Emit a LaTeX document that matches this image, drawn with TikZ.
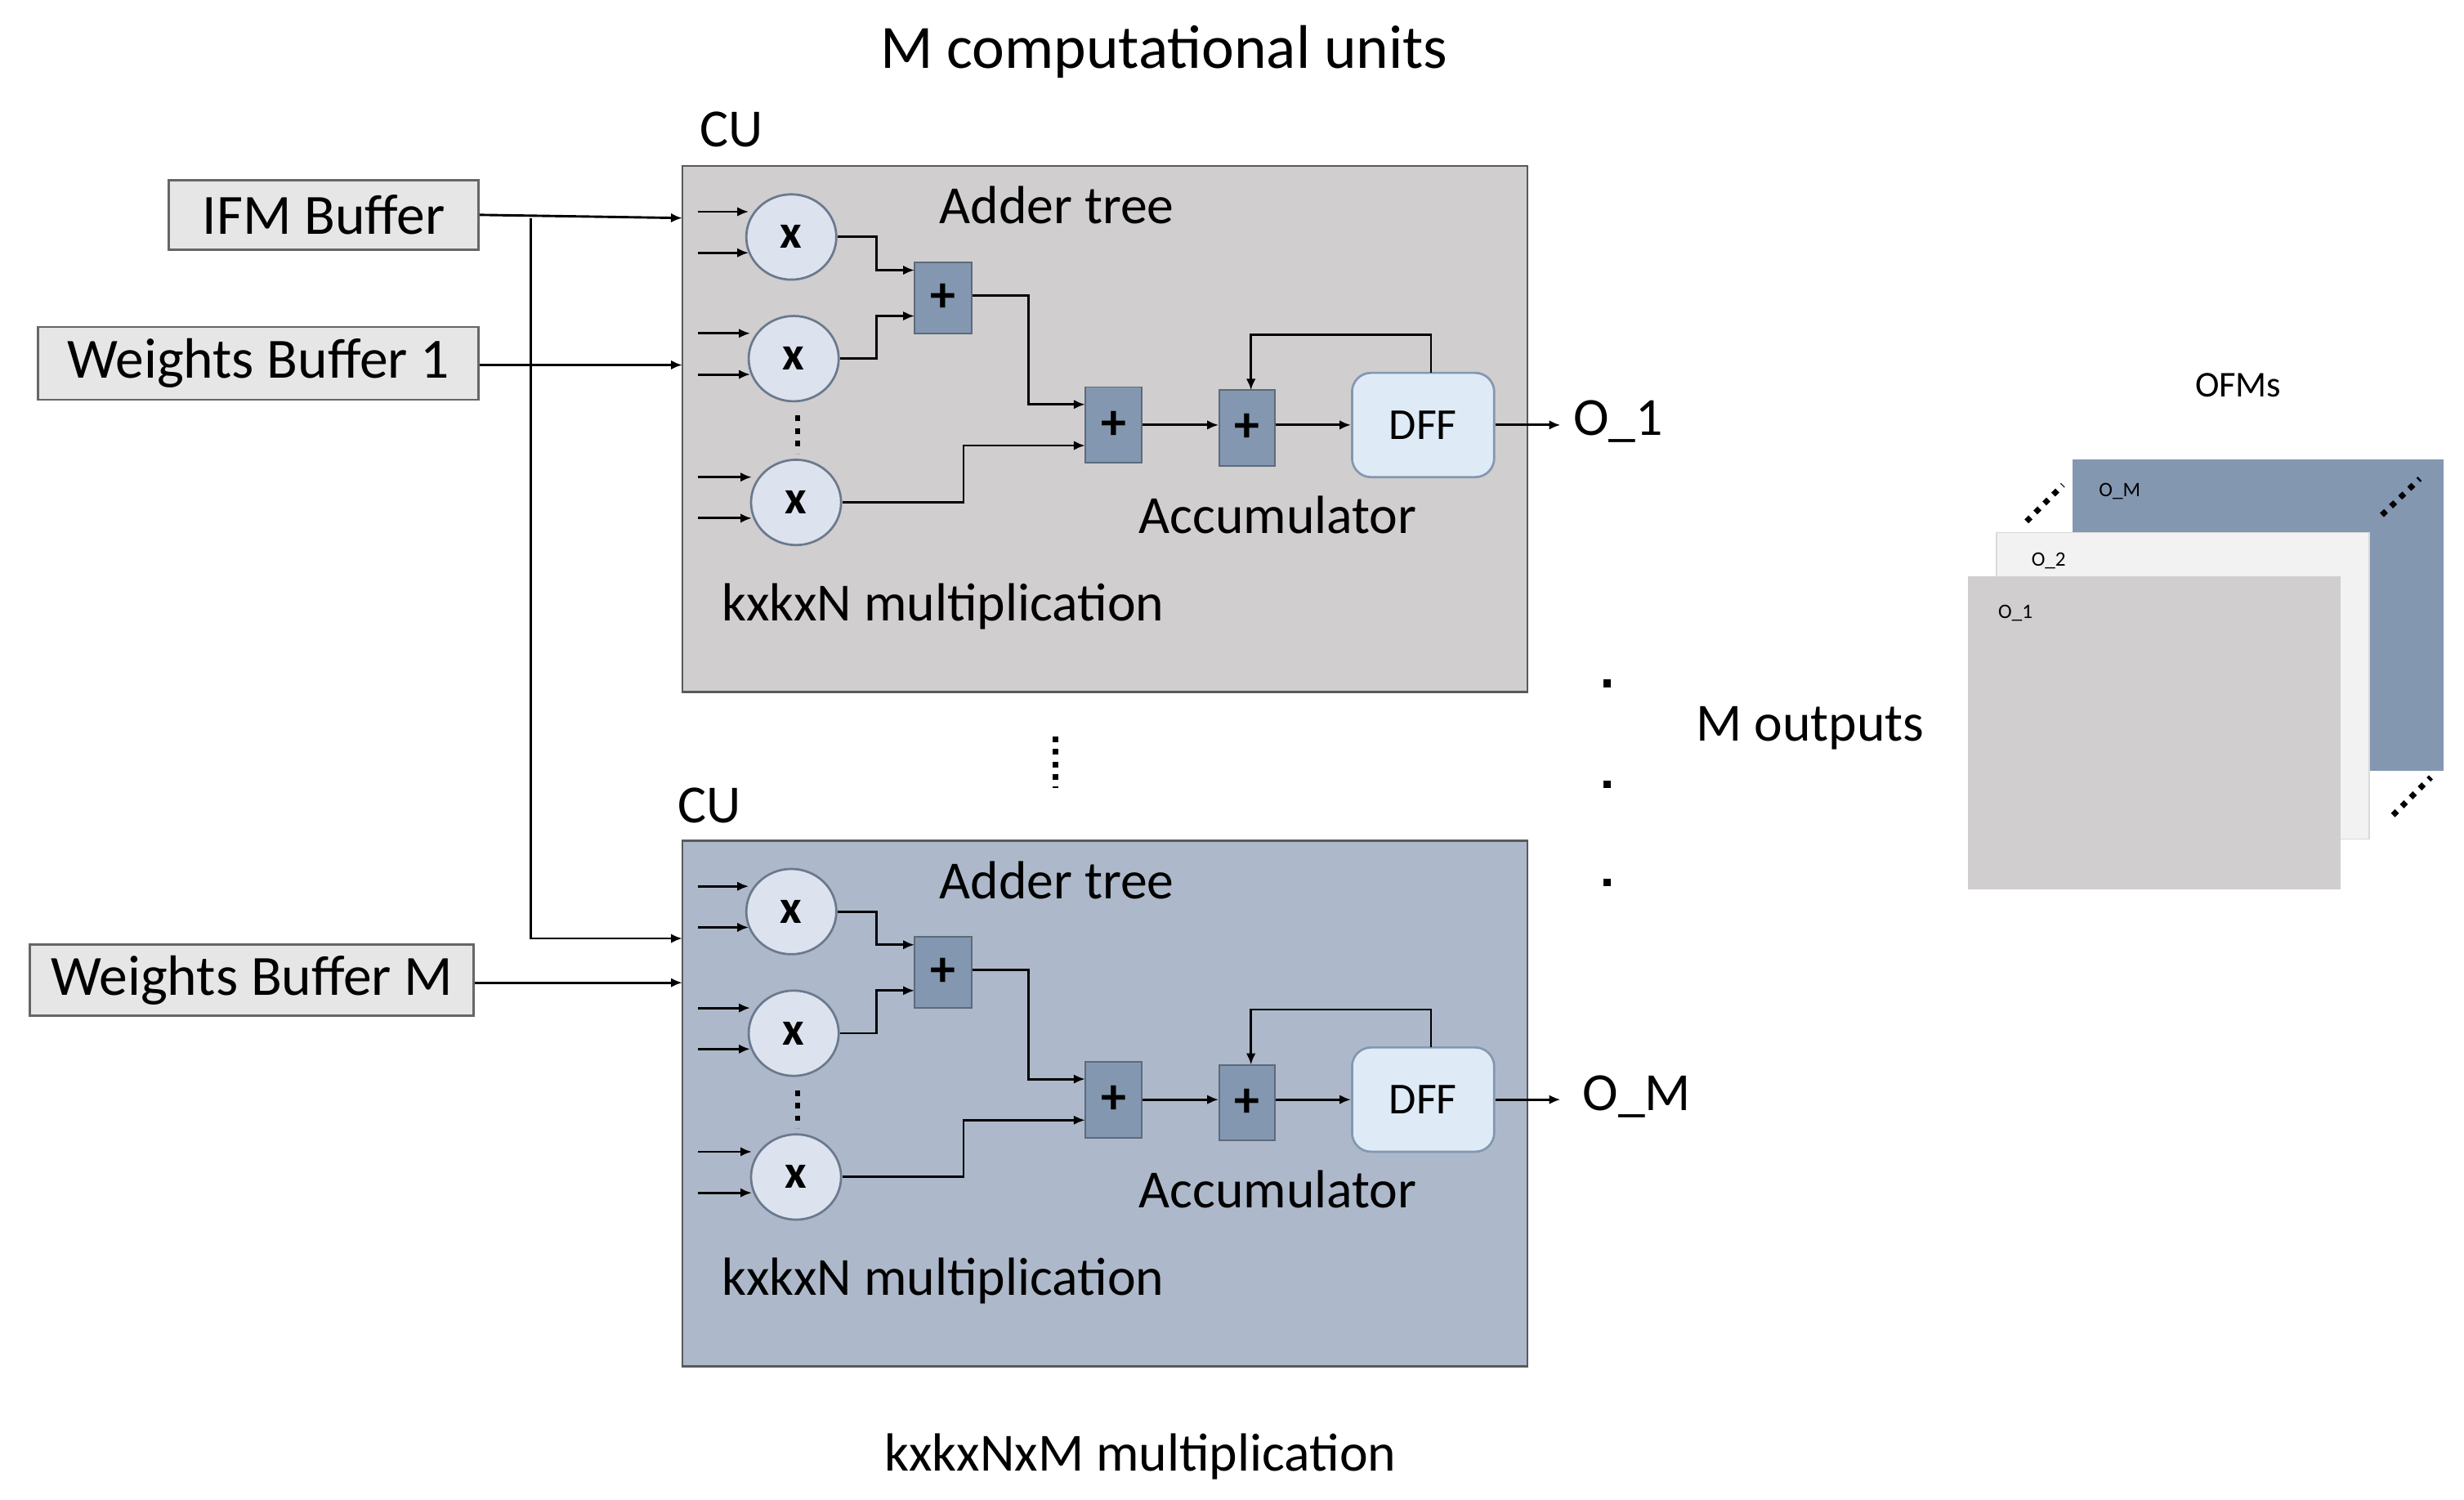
\documentclass[tikz,border=0pt]{standalone}
\usepackage{fontspec}
\setmainfont{Carlito}
\usetikzlibrary{arrows.meta,shapes.geometric}
\definecolor{cugray}{HTML}{D0CECE}
\definecolor{cublue}{HTML}{ADB9CA}
\definecolor{addc}{HTML}{8497B0}
\definecolor{dffc}{HTML}{DEEBF7}
\definecolor{bufc}{HTML}{E7E6E6}
\definecolor{mulc}{HTML}{DCE3EE}
\begin{document}
\begin{tikzpicture}[x=0.5pt,y=-0.5pt,
 buf/.style={draw=gray!80!black,fill=bufc,line width=0.7pt,font=\fontsize{18}{18}\selectfont},
 mul/.style={draw=addc!80!black,fill=mulc,ellipse,line width=0.7pt},
 add/.style={draw=addc!70!black,fill=addc,line width=0.5pt},
 arr/.style={-{Latex[length=3.6pt,width=3pt]},line width=0.75pt},
 lab/.style={font=\fontsize{17}{17}\selectfont},
 bigl/.style={font=\fontsize{19.5}{19.5}\selectfont},
 dot/.style={line width=1.8pt,dash pattern=on 1.8pt off 2.2pt}]
\useasboundingbox (0,0) rectangle (1560,949);
\node[bigl] (title) at (737,33) {M computational units};
% buffers
\node[buf,minimum width=98pt,minimum height=22pt] (ifm) at (205,136) {IFM Buffer};
\node[buf,minimum width=139.5pt,minimum height=23pt] (w1) at (163.5,230) {Weights Buffer 1};
\node[buf,minimum width=140.5pt,minimum height=22.5pt] (wm) at (159.5,620.5) {Weights Buffer M};
\coordinate (jn) at (336,138);
\foreach \k/\dy/\fc in {1/0/cugray,2/427/cublue}{
 \begin{scope}[yshift=-\dy*0.5pt]
 \node[draw=gray!70!black,fill=\fc,line width=0.7pt,minimum width=267.5pt,minimum height=166.5pt,inner sep=0] (box\k) at (699.5,271.5) {};
 \foreach \i/\y in {1/150,2/227,3/318}{
  \node[mul,minimum width=28.5pt,minimum height=27pt,inner sep=0,font=\fontsize{15}{15}\selectfont\bfseries] (m\k\i) at (501+\i*1.5-1.5,\y) {x};
  \draw[arr] (442,\y-16) -- (473+\i,\y-16);
  \draw[arr] (442,\y+10) -- (473+\i,\y+10);
 }
 \draw[dot] (505,263) -- (505,287);
 \node[add,minimum width=18pt,minimum height=22.5pt,inner sep=0,font=\fontsize{16}{16}\selectfont\bfseries] (a\k1) at (597,188.5) {+};
 \node[add,minimum width=18pt,minimum height=24pt,inner sep=0,font=\fontsize{16}{16}\selectfont\bfseries] (a\k2) at (705,269) {+};
 \node[add,minimum width=17.5pt,minimum height=24pt,inner sep=0,font=\fontsize{16}{16}\selectfont\bfseries] (a\k3) at (789.5,271) {+};
 \node[draw=addc,fill=dffc,rounded corners=6pt,line width=0.7pt,minimum width=45pt,minimum height=33pt,inner sep=0,font=\fontsize{14}{14}\selectfont] (d\k) at (901,269) {DFF};
 \draw[arr] (m\k1.east) -- (555,150) |- (579,171);
 \draw[arr] (m\k2.east) -- (555,227) |- (579,200);
 \draw[arr] (a\k1.east |- 0,187) -- (651,187) |- (687,256);
 \draw[arr] (m\k3.east) -- (610,318) |- (687,282);
 \draw[arr] (a\k2.east |- 0,269) -- (a\k3.west |- 0,269);
 \draw[arr] (a\k3.east |- 0,269) -- (d\k.west |- 0,269);
 \draw[arr] (906,236) -- (906,212) -| (792,247);
 \coordinate (o\k) at (988,269);
 \draw[arr] (d\k.east |- 0,269) -- (o\k);
 \node[lab] (at\k) at (669,130) {Adder tree};
 \node[lab] (ac\k) at (809,326) {Accumulator};
 \node[lab] (kk\k) at (597,384) {kxkxN multiplication};
 \end{scope}
}
\node[lab,anchor=west] (O1) at (989,267) {O\_1};
\node[lab,anchor=west] (OM) at (995,694) {O\_M};
\node[lab] (cu1) at (463,82) {CU};
\node[lab] (cu2) at (449,510) {CU};
% input wiring
\draw[arr] (ifm.east) -- (432,138);
\draw[arr] (w1.east |- 0,231) -- (432,231);
\draw[arr] (jn) -- (336,594) -- (432,594);
\draw[arr] (wm.east |- 0,622) -- (432,622);
% dots
\draw[dot] (668,466) -- (668,499);
\foreach \y in {430,494,556} \fill (1015,\y) rectangle ++(5,5);
\node[lab] (mo) at (1146,461) {M outputs};
\node[font=\fontsize{11.5}{11.5}\selectfont] (ofm) at (1417,244) {OFMs};
% OFM stack
\node[fill=addc,minimum width=117.5pt,minimum height=98.5pt,inner sep=0] (s3) at (1429.5,389.5) {};
\node[fill=black!5,draw=black!15,minimum width=118pt,minimum height=97pt,inner sep=0] (s2) at (1382,434) {};
\node[fill=cugray,minimum width=118pt,minimum height=99pt,inner sep=0] (s1) at (1364,464) {};
\node[font=\fontsize{6.5}{6.5}\selectfont] at (1342,311) {O\_M};
\node[font=\fontsize{6.5}{6.5}\selectfont] at (1297,355) {O\_2};
\node[font=\fontsize{6.5}{6.5}\selectfont] at (1276,388) {O\_1};
\draw[dot] (1283,330) -- (1306,307);
\draw[dot] (1508,326) -- (1532,303);
\draw[dot] (1515,516) -- (1539,492);
\node[lab] (bot) at (722,922) {kxkxNxM multiplication};
\end{tikzpicture}
\end{document}
